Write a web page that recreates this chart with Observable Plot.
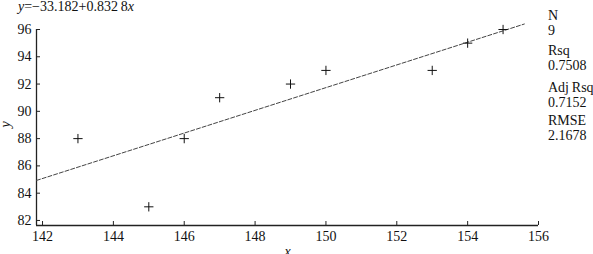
<!DOCTYPE html>
<html><head><meta charset="utf-8">
<script src="https://cdn.jsdelivr.net/npm/d3@7"></script>
<script src="https://cdn.jsdelivr.net/npm/@observablehq/plot@0.6"></script>
<style>
html,body{margin:0;padding:0;background:#fff;}
#wrap{position:relative;width:593px;height:254px;overflow:hidden;font-family:"Liberation Serif",serif;color:#111;}
#wrap svg text{font-family:"Liberation Serif",serif;}
#title{position:absolute;left:18px;top:0px;font-size:14px;line-height:14px;white-space:nowrap;}
#stats{position:absolute;left:548px;top:9px;font-size:14px;line-height:14.5px;white-space:nowrap;}
#stats div.lab{margin-top:6px;}
#stats div.lab:first-child{margin-top:0;}
#stats div.lab.l2{margin-top:8px;}
#stats div.lab.l3{margin-top:4px;}
</style></head>
<body><div id="wrap"><div id="title"></div><div id="stats"></div></div>
<script>
const xs = [143, 145, 146, 147, 149, 150, 153, 154, 155];
const ys = [88, 83, 88, 91, 92, 93, 93, 95, 96];
const intercept = -33.182;
const slope = 0.8328;
const fitRange = [141.83, 155.6];
const xTicks = [142, 144, 146, 148, 150, 152, 154, 156];
const yTicks = [82, 84, 86, 88, 90, 92, 94, 96];
const statLabels = ["N", "Rsq", "Adj\u2009Rsq", "RMSE"];
const statValues = ["9", "0.7508", "0.7152", "2.1678"];

const points = xs.map((x, i) => ({x, y: ys[i]}));
const fit = fitRange.map(x => ({x, y: intercept + slope * x}));
const xDomain = [141.83, 156];
const yDomain = [81.63, 96];

const chart = Plot.plot({
  width: 593, height: 254,
  marginLeft: 36, marginRight: 55, marginTop: 29, marginBottom: 29,
  style: {fontFamily: "'Liberation Serif', serif", fontSize: "14px", color: "#111", background: "#fff"},
  x: {domain: xDomain},
  y: {domain: yDomain},
  marks: [
    Plot.ruleY([yDomain[0]], {stroke: "#222", strokeWidth: 1.3}),
    Plot.ruleX([xDomain[0]], {stroke: "#222", strokeWidth: 1.3}),
    Plot.axisX(xTicks, {tickSize: -4, tickPadding: 10, stroke: "#222", label: null, fontSize: 14}),
    Plot.axisY(yTicks, {tickSize: -4, tickPadding: 9, stroke: "#222", label: null, fontSize: 14}),
    Plot.text(["y"], {frameAnchor: "left", dx: -31, rotate: -90, fontStyle: "italic", fontSize: 14, fill: "#111"}),
    Plot.text(["x"], {frameAnchor: "bottom", dy: 30, fontStyle: "italic", fontSize: 14, fill: "#111"}),
    Plot.line(fit, {x: "x", y: "y", stroke: "#444", strokeWidth: 1, strokeDasharray: "4,2"}),
    Plot.dot(points, {x: "x", y: "y", symbol: "plus", r: 3.1, stroke: "#111", strokeWidth: 1})
  ]
});
document.getElementById("wrap").appendChild(chart);

document.getElementById("title").innerHTML =
  '<i>y</i>=\u221233.182+0.832\u20098<i>x</i>';
const st = document.getElementById("stats");
statLabels.forEach((l, i) => {
  const a = document.createElement("div"); a.className = "lab l" + i; a.textContent = l; st.appendChild(a);
  const b = document.createElement("div"); b.textContent = statValues[i]; st.appendChild(b);
});
</script></body></html>
